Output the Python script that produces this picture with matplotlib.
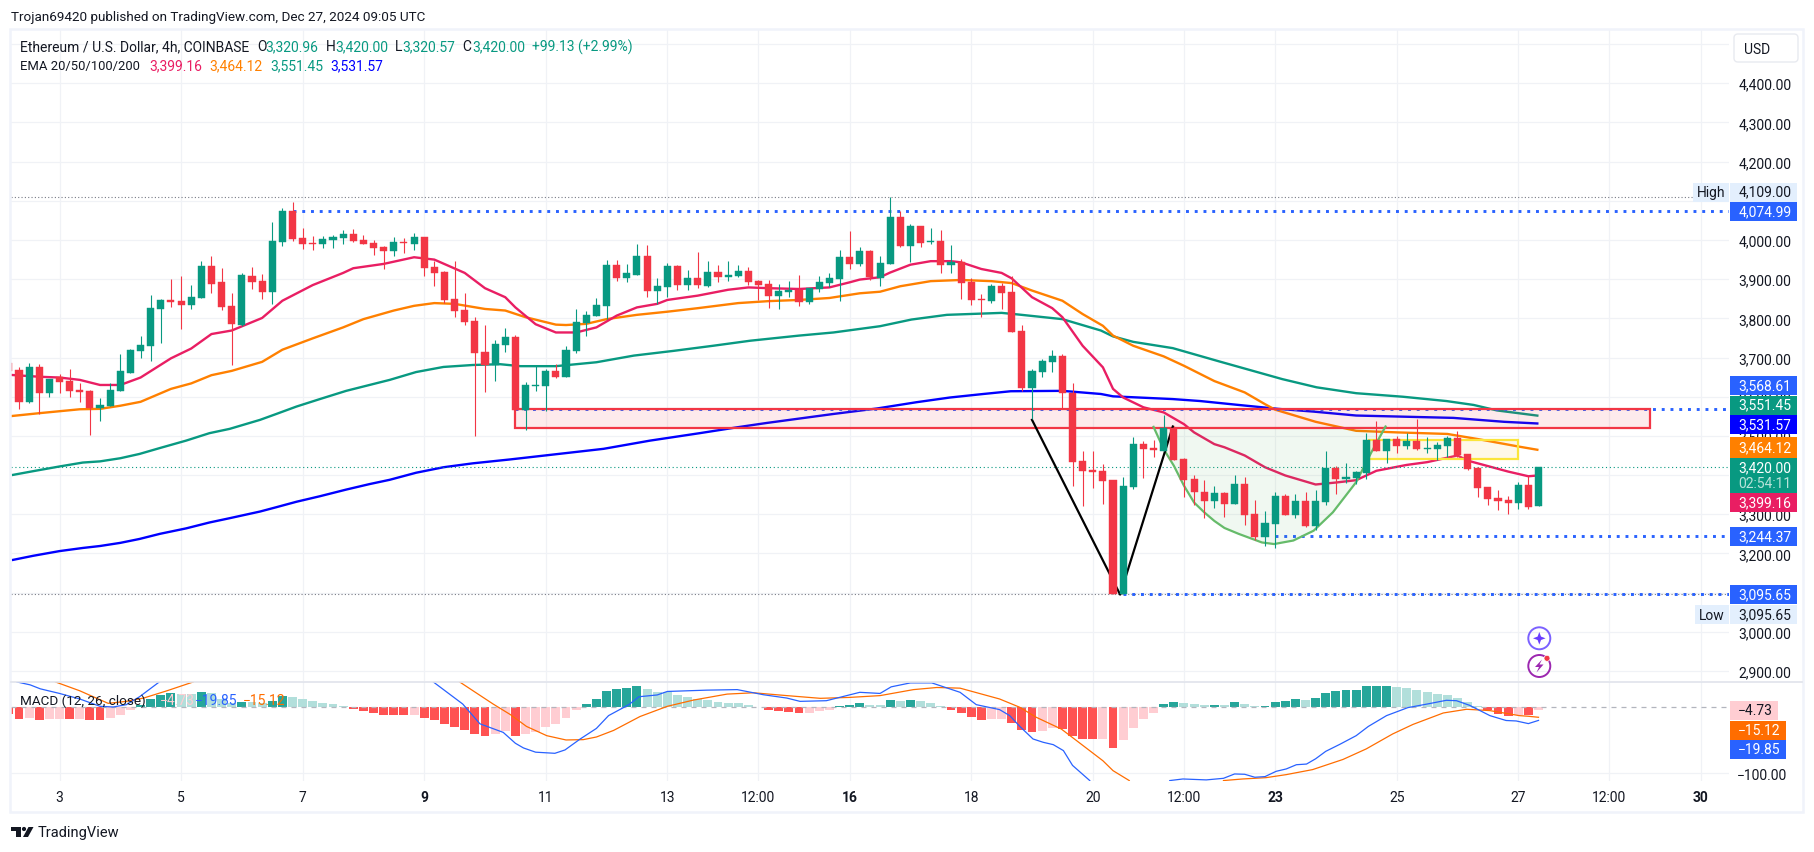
import numpy as np
import matplotlib
matplotlib.use("Agg")
import matplotlib.pyplot as plt
from matplotlib.patches import Rectangle, Circle, Polygon, FancyBboxPatch

plt.rcParams['font.family'] = ['Roboto', 'DejaVu Sans']

# candles, bar index 0..151 (4h bars, bar 5 = Dec 3 00:00)
opens = [3686, 3668, 3587, 3676, 3610, 3650, 3640, 3617, 3615, 3571,
         3576, 3615, 3660, 3717, 3729, 3824, 3847, 3844, 3834, 3852,
         3934, 3893, 3831, 3783, 3907, 3895, 3867, 3995, 4074, 4005,
         3992, 3990, 4000, 4005, 4015, 4000, 3992, 3982, 3972, 3995,
         3990, 4008, 3931, 3918, 3849, 3821, 3793, 3714, 3681, 3732,
         3752, 3566, 3627, 3627, 3666, 3650, 3717, 3788, 3806, 3832,
         3936, 3903, 3911, 3959, 3870, 3880, 3934, 3885, 3903, 3883,
         3918, 3906, 3908, 3921, 3895, 3888, 3857, 3867, 3872, 3842,
         3875, 3890, 3900, 3957, 3939, 3972, 3903, 3939, 4059, 3985,
         4036, 3995, 3997, 3936, 3944, 3893, 3849, 3844, 3883, 3867,
         3768, 3622, 3663, 3689, 3704, 3609, 3436, 3413, 3410, 3387,
         3096, 3369, 3479, 3469, 3461, 3520, 3441, 3390, 3357, 3334,
         3354, 3326, 3377, 3301, 3242, 3275, 3347, 3298, 3334, 3270,
         3331, 3418, 3390, 3393, 3405, 3490, 3462, 3492, 3474, 3487,
         3467, 3467, 3474, 3495, 3454, 3418, 3370, 3342, 3336, 3329,
         3375, 3320.96]
closes = [3666, 3587, 3676, 3610, 3645, 3638, 3615, 3612, 3571, 3579,
          3617, 3666, 3719, 3732, 3826, 3847, 3842, 3834, 3854, 3934,
          3888, 3829, 3786, 3911, 3893, 3867, 3997, 4074, 4003, 3990,
          3990, 4003, 4008, 4015, 3997, 3990, 3980, 3972, 3995, 3992,
          4008, 3928, 3916, 3847, 3819, 3791, 3712, 3681, 3734, 3752,
          3566, 3630, 3630, 3666, 3650, 3719, 3791, 3809, 3834, 3936,
          3903, 3916, 3959, 3870, 3883, 3934, 3885, 3903, 3885, 3918,
          3906, 3911, 3921, 3893, 3885, 3857, 3870, 3872, 3842, 3877,
          3893, 3903, 3957, 3939, 3972, 3906, 3941, 4059, 3985, 4036,
          3992, 3997, 3936, 3944, 3890, 3847, 3847, 3883, 3865, 3765,
          3622, 3666, 3691, 3704, 3609, 3433, 3410, 3408, 3385, 3096,
          3372, 3479, 3466, 3464, 3520, 3438, 3387, 3357, 3334, 3354,
          3326, 3377, 3298, 3242, 3278, 3347, 3298, 3334, 3270, 3334,
          3418, 3390, 3395, 3408, 3490, 3462, 3492, 3474, 3487, 3467,
          3469, 3477, 3495, 3451, 3416, 3367, 3339, 3334, 3329, 3375,
          3318, 3420.00]
highs = [3686, 3676, 3686, 3684, 3645, 3658, 3671, 3635, 3617, 3597,
         3635, 3709, 3723, 3756, 3860, 3849, 3900, 3909, 3885, 3946,
         3959, 3929, 3865, 3915, 3931, 3913, 4046, 4082, 4097, 4031,
         4010, 4010, 4013, 4025, 4028, 4013, 4000, 3985, 4008, 4005,
         4018, 4008, 3946, 3921, 3946, 3865, 3803, 3783, 3745, 3775,
         3757, 3637, 3678, 3671, 3683, 3729, 3824, 3819, 3852, 3949,
         3949, 3939, 3990, 3987, 3903, 3941, 3936, 3923, 3969, 3946,
         3936, 3946, 3936, 3931, 3898, 3898, 3888, 3895, 3911, 3877,
         3908, 3916, 3975, 4023, 3982, 3975, 3959, 4109, 4074, 4041,
         4036, 4031, 4026, 3987, 3952, 3903, 3862, 3888, 3890, 3908,
         3783, 3671, 3696, 3719, 3709, 3635, 3461, 3461, 3428, 3387,
         3395, 3497, 3487, 3489, 3553, 3525, 3443, 3400, 3387, 3372,
         3357, 3400, 3395, 3337, 3308, 3357, 3352, 3352, 3357, 3362,
         3462, 3423, 3431, 3411, 3508, 3538, 3492, 3500, 3508, 3543,
         3497, 3485, 3500, 3513, 3454, 3421, 3370, 3362, 3347, 3382,
         3398, 3420.00]
lows = [3666, 3569, 3584, 3556, 3600, 3610, 3599, 3587, 3502, 3538,
        3576, 3615, 3660, 3700, 3692, 3737, 3828, 3773, 3824, 3852,
        3865, 3821, 3681, 3781, 3875, 3849, 3837, 3985, 3997, 3977,
        3974, 3980, 3980, 3990, 3995, 3990, 3962, 3926, 3959, 3967,
        3974, 3908, 3883, 3839, 3803, 3783, 3501, 3612, 3640, 3714,
        3566, 3515, 3615, 3564, 3648, 3650, 3712, 3755, 3806, 3798,
        3895, 3893, 3911, 3855, 3837, 3855, 3872, 3872, 3877, 3880,
        3893, 3895, 3906, 3885, 3847, 3826, 3824, 3855, 3832, 3837,
        3867, 3880, 3844, 3926, 3934, 3898, 3883, 3939, 3982, 3944,
        3982, 3990, 3916, 3916, 3849, 3834, 3803, 3839, 3824, 3765,
        3614, 3543, 3650, 3663, 3569, 3372, 3321, 3367, 3326, 3096,
        3095.65, 3364, 3392, 3446, 3461, 3438, 3344, 3323, 3290, 3316,
        3293, 3326, 3273, 3234, 3219, 3214, 3298, 3291, 3268, 3260,
        3324, 3352, 3380, 3377, 3390, 3462, 3431, 3456, 3467, 3464,
        3456, 3439, 3446, 3446, 3413, 3344, 3324, 3311, 3301, 3313,
        3313, 3320.57]

# EMA lines, sampled bar index and price
ema20_x = [0, 3, 5, 7, 9, 11, 13, 16, 18, 20, 22, 25, 27, 30, 33, 34, 37, 40, 42, 45, 47, 49, 50, 52, 54, 56, 58, 60,
           62, 64, 65, 68, 71, 73, 75, 78, 81, 83, 84, 86, 87, 89, 91, 93, 94, 96, 98, 99, 101, 103, 104, 106, 108, 109,
           110, 112, 114, 116, 117, 119, 120, 122, 124, 126, 129, 131, 133, 135, 138, 140, 143, 144, 148, 150, 151]
ema20_y = [3656, 3651, 3649, 3643, 3630, 3630, 3649, 3698, 3723, 3760, 3769, 3801, 3845, 3885, 3916, 3928, 3939, 3956,
           3950, 3916, 3877, 3854, 3828, 3785, 3764, 3764, 3777, 3807, 3828, 3837, 3847, 3858, 3873, 3879, 3877, 3875,
           3879, 3892, 3899, 3905, 3917, 3937, 3946, 3946, 3943, 3926, 3916, 3902, 3854, 3826, 3803, 3730, 3675, 3620,
           3598, 3573, 3560, 3530, 3509, 3479, 3471, 3450, 3420, 3399, 3376, 3381, 3387, 3411, 3426, 3433, 3450, 3437,
           3409, 3397, 3399.16]
ema50_x = [0, 3, 5, 7, 9, 11, 13, 16, 18, 20, 22, 25, 27, 30, 33, 35, 38, 40, 42, 44, 47, 49, 51, 54, 55, 57, 59,
           62, 65, 68, 72, 75, 78, 81, 84, 86, 88, 91, 94, 97, 99, 101, 104, 106, 108, 109, 111, 114, 116, 119,
           122, 124, 125, 129, 133, 137, 142, 145, 149, 151]
ema50_y = [3550, 3558, 3563, 3568, 3569, 3577, 3587, 3620, 3634, 3655, 3666, 3689, 3720, 3749, 3777, 3798, 3820, 3832,
           3839, 3837, 3824, 3820, 3803, 3784, 3783, 3786, 3798, 3809, 3817, 3826, 3839, 3844, 3847, 3852, 3864, 3868,
           3882, 3895, 3898, 3895, 3890, 3871, 3845, 3811, 3781, 3756, 3730, 3703, 3679, 3640, 3611, 3581, 3567, 3536,
           3513, 3509, 3505, 3492, 3473, 3464.12]
ema100_x = [0.3, 2.4, 5, 7.3, 9, 11, 12.9, 14.9, 17.5, 19.8, 21.8, 24.8, 26.4, 28.4, 30.7, 33.3, 35.6, 37.6, 40.2,
            42.9, 45.8, 48.5, 50.5, 54, 58, 61.7, 65.6, 69.5, 73.2, 78, 81.4, 86, 89.1, 92.6, 98, 99.6, 104, 107.8,
            109, 111, 114.9, 119.5, 125.7, 129.1, 133, 137.6, 141.9, 144.6, 146.9, 151]
ema100_y = [3400, 3410, 3422, 3432, 3435, 3443, 3454, 3469, 3488, 3507, 3518, 3541, 3556, 3575, 3594, 3615, 3630, 3643,
            3663, 3676, 3681, 3683, 3678, 3678, 3688, 3705, 3717, 3730, 3743, 3756, 3764, 3780, 3797, 3809, 3814, 3810,
            3798, 3769, 3754, 3740, 3724, 3690, 3645, 3624, 3609, 3600, 3589, 3579, 3565, 3551.45]
ema200_x = [0.3, 2.4, 5, 7.3, 9, 11, 12.9, 14.9, 17.5, 19.8, 21.8, 24.8, 26.4, 28.4, 30.7, 33.3, 35.6, 37.6, 40.2,
            42.9, 45.8, 49.5, 58.7, 63.3, 68.2, 71.9, 74.8, 81.4, 85.7, 89.6, 92.9, 96.2, 98.9, 104, 107.8, 109,
            114.9, 117.6, 121.4, 125.3, 128.8, 133, 142.6, 147.6, 151]
ema200_y = [3183, 3194, 3206, 3214, 3219, 3227, 3237, 3250, 3264, 3279, 3290, 3307, 3318, 3332, 3346, 3363, 3377, 3388,
            3406, 3420, 3430, 3440, 3467, 3488, 3507, 3522, 3533, 3556, 3570, 3586, 3598, 3607, 3614, 3615, 3607, 3601,
            3594, 3589, 3579, 3569, 3562, 3552, 3546, 3536, 3531.57]

# drawings
cup_x = [113, 114, 115, 116, 117, 118, 119, 120, 121.4, 123.7, 124.9, 126.8, 128.8, 130.7, 133, 134.5, 135.9]
cup_y = [3523, 3466, 3424, 3373, 3330, 3305, 3283, 3265, 3250, 3228, 3224, 3233, 3258, 3305, 3382, 3458, 3524]
vee_x = [101, 109.7, 114.9]
vee_y = [3541, 3095, 3524]

# MACD histogram, one value per bar; R/P red solid/pale, T/L teal solid/pale
hist = [-10, -18, -16, -19, -18, -18, -18, -18, -19, -19,
        -16, -12, -4, 4, 12.6, 19, 22, 20, 20, 23,
        22, 13, 6.5, 8, 8, 6.5, 10, 17, 15.6, 12.6,
        9.6, 6.5, 5, 2, -2.5, -5.5, -8.6, -11.6, -11.6, -11.6,
        -11.6, -16, -19, -25, -30, -34, -40, -43, -40, -36,
        -43, -40, -37, -30, -25, -16, -4, 5, 12.6, 25,
        28, 29, 32, 28, 23, 23, 18.7, 15.6, 12.6, 11,
        8, 6.5, 6.5, 3.5, 0.5, -4, -5.5, -7, -8.6, -8.6,
        -5.5, -4, 2, 3.5, 6.5, 3.5, 3.5, 11, 9.6, 11,
        9.6, 6.5, 2, -4, -8.6, -14.6, -19, -18, -18, -24,
        -34, -37, -36, -31, -33, -43, -48, -48, -48, -62,
        -49.5, -31, -18, -8.6, 5, 8, 6.5, 5, 3.5, 3.5,
        3.5, 8, 5, 2, 2, 8, 9.6, 12.6, 11, 14,
        21.7, 24.7, 26, 26, 32, 32, 32, 31, 29, 26,
        23, 20, 18.7, 14, 8, 2, -4, -10, -12.6, -11,
        -12, -4.73]
hist_kind = ("RRPRPPRPRR" "PPPTTTTLLT" "LLLTLLTTLL" "LLLLRRRRRR"
             "PRRRRRRRPP" "RPPPPPPTTT" "TTTLLLLLLL" "LLLLLRRRRP"
             "PPTTTLLTLT" "LLLRRRRPPR" "RRPPRRRRPR" "PPPPTTLLLT"
             "LTLLTTTTLT" "TTTTTTTLLL" "LLLLLLRRRP" "RP")

macd_x = [0.8, 2.1, 3.1, 5, 7, 9, 10.3, 11.6, 12.9, 14.9, np.nan,
          41.9, 44.8, 46.5, 48.8, 50, 50.8, 52, 53.9, 54.9, 56.4, 58, 59.2, 61.2, 62.2, 64, 65, 68.9, 71.9, 74.5, 76.8,
          78.1, 80.7, 84, 86, 87.1, 89, 91.1, 93.9, 95.5, 97.8, 98.8, 99.8, 101.1, 102.1, 103.1, 104.1, 105, 106.7,
          np.nan, 114.6, 115.9, 118.2, 119.9, 121, 122, 123, 124, 125.1, 126.1, 127.1, 128.1, 129, 130, 131.4, 133,
          134.2, 136, 138.1, 140.2, 141.9, 142.9, 144.2, 146.2, 147.8, 148.8, 150, 151]
macd_y = [38.4, 34, 28, 21, 12.6, 1.5, 0.5, 4, 16, 39, np.nan,
          38.4, 5, -25, -38, -54.5, -61.6, -68, -69.7, -64.6, -48, -32, -12.6, 4, 16, 18.7, 24, 26, 26.8, 19, 14,
          9, 10, 22.7, 21, 31, 37, 37, 22.7, 4, -3.5, -12.6, -29, -48, -53, -56.6, -65.6, -88, -111,
          np.nan, -111, -108.6, -110, -107.6, -101, -101.5, -106, -105, -97, -93.4, -87, -86, -78, -66.7, -56, -43,
          -29, -12.6, -0.5, 5.5, 10.6, 10, 3, -12.6, -20, -20.7, -24.7, -19.85]
signal_x = [4.6, 7, 9.8, 11.6, 13.3, 15.6, 18.2, np.nan,
            44.5, 47.8, 49.5, 51.1, 53.1, 55, 56.7, 58, 59.7, 62.3, 65, 67.6, 70.9, 73.5, 76.8, 80.1, 83, 86, 89.3,
            91.6, 93.9, 97.8, 99.8, 101.4, 103.9, 105.4, 108, 109, 110.6, np.nan,
            119.9, 121.8, 124.1, 126.1, 128.7, 131.7, 134, 136.6, 138.6, 141.6, 143.9, 146.2, 149.1, 150, 151]
signal_y = [38.4, 25, 6, 9, 14, 25, 38.4, np.nan,
            38.4, 5, -11, -29, -43, -49.5, -49, -45, -35, -14, 1.5, 11, 20, 22, 17.7, 13.6, 15, 17.7, 26.8,
            30, 29, 12.6, 0, -15, -33, -50.5, -81, -96, -111, np.nan,
            -111, -108.6, -106.6, -102, -94.4, -79, -63, -40.4, -26, -8.6, -3, -5, -12.6, -13.6, -15.12]

price_ticks = [2900, 3000, 3100, 3200, 3300, 3400, 3500, 3600, 3700, 3800, 3900, 4000, 4100, 4200, 4300, 4400, 4500]
time_ticks = [5, 17, 29, 41, 53, 65, 74, 83, 95, 107, 116, 125, 137, 149, 158, 167]
time_labels = ['3', '5', '7', '9', '11', '13', '12:00', '16', '18', '20', '12:00', '23', '25', '27', '12:00', '30']
bold_labels = ['9', '16', '23', '30']

UP, DOWN = "#089981", "#f23645"
BLUE = "#2962ff"
GRID = "#f0f2f6"
INK = "#131722"
FS = 10
FS_SMALL = 9.7

# layout in pixels of the 1814x853 image
W, H = 1814, 853
LEFT, RIGHT = 11, 1729
MAIN_TOP, MAIN_BOT, SUB_BOT = 31, 682, 781.7
BAR_PX, BAR1_X = 10.13, 19
PRICE_PX = 0.3918
HIGH_Y = 198.3
MACD_PX, MACD_ZERO = 0.66, 708.3

fig = plt.figure(figsize=(W / 100, H / 100), dpi=100, facecolor="white")


def place(top, bottom):
    return [LEFT / W, 1 - bottom / H, (RIGHT - LEFT) / W, (bottom - top) / H]


ax = fig.add_axes(place(MAIN_TOP, MAIN_BOT))
sub = fig.add_axes(place(MAIN_BOT + 1, SUB_BOT))
xlim = (1 + (LEFT - BAR1_X) / BAR_PX, 1 + (RIGHT - BAR1_X) / BAR_PX)
for a in (ax, sub):
    a.set_xlim(*xlim)
    a.set_xticks(time_ticks)
    a.set_axisbelow(True)
    a.grid(True, color=GRID, lw=0.9)
    a.spines[:].set_visible(False)
    a.tick_params(length=0, labelsize=FS, labelcolor=INK)
    a.yaxis.tick_right()
ax.set_ylim(4109 - (MAIN_BOT - HIGH_Y) / PRICE_PX, 4109 + (HIGH_Y - MAIN_TOP) / PRICE_PX)
sub.set_ylim((MACD_ZERO - SUB_BOT) / MACD_PX, (MACD_ZERO - MAIN_BOT - 1) / MACD_PX)

ax.set_xticklabels([])
ax.set_yticks(price_ticks)
# the 4,500 line has no visible label, the USD button sits there
ax.set_yticklabels([f"{p:,.2f}" if p < 4500 else "" for p in price_ticks], ha="right")
ax.tick_params(axis="y", pad=45)
sub.set_yticks([-100])
sub.set_yticklabels(["\u2212100.00"], ha="right")
sub.tick_params(axis="y", pad=41.5)
sub.set_xticklabels(time_labels)
sub.tick_params(axis="x", pad=6.5)
for t in sub.get_xticklabels():
    if t.get_text() in bold_labels:
        t.set_fontweight("bold")

# EMAs under the drawings, candles on top
for xs, ys, c in [(ema200_x, ema200_y, "#0000ff"), (ema100_x, ema100_y, UP),
                  (ema50_x, ema50_y, "#ff8000"), (ema20_x, ema20_y, "#e91e63")]:
    ax.plot(xs, ys, color=c, lw=1.7, zorder=2, solid_capstyle="butt")

# high / low / last markers
ax.axhline(3420, color=UP, lw=0.8, ls=(0, (1, 2.5)), zorder=2.2)
ax.plot([xlim[0], 167.2], [4109, 4109], color="#787b86", lw=0.8, ls=(0, (1, 2)), zorder=2.2)
ax.axhline(3095.65, color="#787b86", lw=0.8, ls=(0, (1, 2)), zorder=2.2)
for x0, price in [(28, 4074.99), (50, 3568.61), (125, 3244.37), (110, 3095.65)]:
    ax.plot([x0, xlim[1]], [price, price], color=BLUE, lw=2.1, ls=(0, (1, 2)), zorder=2.6)

# zones
ax.add_patch(Rectangle((50, 3520), 112, 48.7, facecolor="#f23645", alpha=0.1, lw=0, zorder=3))
ax.add_patch(Rectangle((50, 3520), 112, 48.7, fill=False, edgecolor=DOWN, lw=1.6, zorder=3.1))
ax.add_patch(Rectangle((134.3, 3440), 14.7, 50.5, facecolor="#fbc02d", alpha=0.1, lw=0, zorder=3))
ax.add_patch(Rectangle((134.3, 3440), 14.7, 50.5, fill=False, edgecolor="#fbe53b", lw=1.6, zorder=3.1))
ax.fill(cup_x, cup_y, color="#4caf50", alpha=0.08, lw=0, zorder=3)
ax.plot(cup_x, cup_y, color="#66bb6a", lw=1.6, zorder=3.1)
ax.plot(vee_x, vee_y, color="black", lw=1.6, zorder=3.2)

# candles
bars = np.arange(len(opens))
o, c = np.array(opens), np.array(closes)
colors = [UP if b >= a else DOWN for a, b in zip(o, c)]
ax.vlines(bars, lows, highs, colors=colors, lw=0.8, zorder=4)
ax.bar(bars, np.abs(c - o), bottom=np.minimum(o, c), width=0.7, color=colors, edgecolor=colors, lw=0.3, zorder=4.1)

# MACD pane
tones = {"R": "#ff5252", "P": "#ffcdd2", "T": "#26a69a", "L": "#b2dfdb"}
sub.bar(np.arange(len(hist)), hist, width=0.88, color=[tones[k] for k in hist_kind], zorder=2)
sub.axhline(0, color="#b2b5be", lw=0.9, ls=(0, (4, 4)), zorder=2.5)
sub.plot(signal_x, signal_y, color="#ff6d00", lw=0.9, zorder=3)
sub.plot(macd_x, macd_y, color=BLUE, lw=0.9, zorder=3.1)

# everything else goes on a pixel overlay
ov = fig.add_axes([0, 0, 1, 1], zorder=10)
ov.set_xlim(0, W)
ov.set_ylim(H, 0)
ov.axis("off")

ov.add_patch(Rectangle((10, 30), 1793, 783, fill=False, edgecolor="#f0f3fa", lw=1.8))
ov.plot([LEFT, 1802], [682.5, 682.5], color="#e0e3eb", lw=1.2)


def txt(x, y, s, color=INK, ha="left", **kw):
    ov.text(x, y, s, color=color, ha=ha, va="center", fontsize=kw.pop("fontsize", FS), **kw)


def tag(y0, y1, right, s, face, color="white", sub_text=None):
    ov.add_patch(Rectangle((1730, y0), right - 1730, y1 - y0, facecolor=face, lw=0))
    if sub_text:
        txt(right - 5.5, y0 + 8.5, s, color, ha="right")
        txt(right - 5.5, y0 + 25, sub_text, "#b9e3da", ha="right")
    else:
        txt(right - 5.5, (y0 + y1) / 2 - 0.5, s, color, ha="right")


txt(11, 17, "Trojan69420 published on TradingView.com, Dec 27, 2024 09:05 UTC", fontsize=FS_SMALL)
txt(20, 47, "Ethereum / U.S. Dollar, 4h, COINBASE")
for x, s in [(257, "O"), (326, "H"), (395, "L"), (462.5, "C")]:
    txt(x, 47, s)
for x, s in [(265.5, "3,320.96"), (335, "3,420.00"), (402, "3,320.57"), (472, "3,420.00"),
             (531.5, "+99.13 (+2.99%)")]:
    txt(x, 47, s, UP)
txt(20, 66, "EMA 20/50/100/200", fontsize=9.4)
for x, s, col in [(149.5, "3,399.16", "#e91e63"), (209.5, "3,464.12", "#ff8000"),
                  (270, "3,551.45", UP), (330.5, "3,531.57", "#0000ff")]:
    txt(x, 66, s, col)
txt(20, 701, "MACD (12, 26, close)", fontsize=FS_SMALL)
txt(160, 701, "\u22124.73", "#ffcdd2")
txt(195, 701, "\u221219.85", BLUE)
txt(243, 701, "\u221215.12", "#ff6d00")

# USD button
ov.add_patch(FancyBboxPatch((1736, 37), 60, 24, boxstyle="round,pad=2,rounding_size=4",
                            facecolor="white", edgecolor="#e8eaf0", lw=1))
txt(1744, 49.5, "USD")

# axis tags
tag(183.5, 202.5, 1797, "4,109.00", "#e3effd", INK)
ov.add_patch(Rectangle((1693, 183.5), 36, 19, facecolor="#e3effd", lw=0))
txt(1711, 192.5, "High", ha="center")
tag(203, 222, 1797, "4,074.99", BLUE)
tag(377, 396, 1797, "3,568.61", BLUE)
tag(396.5, 415.5, 1797, "3,551.45", UP)
tag(416, 435, 1797, "3,531.57", "#0000ff")
tag(438, 459, 1797, "3,464.12", "#ff8000")
tag(459.3, 494, 1797, "3,420.00", UP, sub_text="02:54:11")
tag(494, 513, 1797, "3,399.16", "#e91e63")
tag(528, 547, 1797, "3,244.37", BLUE)
tag(586, 605, 1797, "3,095.65", BLUE)
tag(605.7, 625, 1797, "3,095.65", "#e3effd", INK)
ov.add_patch(Rectangle((1695, 605.7), 34, 19.3, facecolor="#e3effd", lw=0))
txt(1712, 615.5, "Low", ha="center")
tag(702, 721, 1778, "\u22124.73", "#ffcdd2", INK)
tag(722, 741, 1785.5, "\u221215.12", "#ff6d00")
tag(741, 760, 1785.5, "\u221219.85", BLUE)

# the two round widget icons
ov.add_patch(Circle((1539.3, 639.3), 11, fill=False, edgecolor="#7b61ff", lw=1.4))
ov.add_patch(Polygon([(1539.3, 633), (1541, 637.6), (1545.6, 639.3), (1541, 641), (1539.3, 645.6),
                      (1537.6, 641), (1533, 639.3), (1537.6, 637.6)], facecolor="#6a3dff", lw=0))
ov.add_patch(Circle((1539.3, 667), 11, fill=False, edgecolor="#9c27b0", lw=1.4))
ov.add_patch(Polygon([(1542, 660.5), (1535, 668), (1539, 668), (1536.5, 673.5), (1543.5, 665.5),
                      (1539.5, 665.5)], facecolor="#9c27b0", lw=0))
ov.add_patch(Circle((1547, 659.3), 3, facecolor="#f23645", edgecolor="white", lw=0.5))

# TradingView mark and name
ov.add_patch(Rectangle((11, 828), 9.5, 4, facecolor=INK, lw=0))
ov.add_patch(Rectangle((15.5, 828), 5, 10, facecolor=INK, lw=0))
ov.add_patch(Circle((24, 830), 2.1, facecolor=INK, lw=0))
ov.add_patch(Polygon([(28.5, 828), (33.5, 828), (28, 838), (23, 838)], facecolor=INK, lw=0))
txt(38, 833, "TradingView", fontsize=10.5)

fig.savefig("out.png", dpi=100)
